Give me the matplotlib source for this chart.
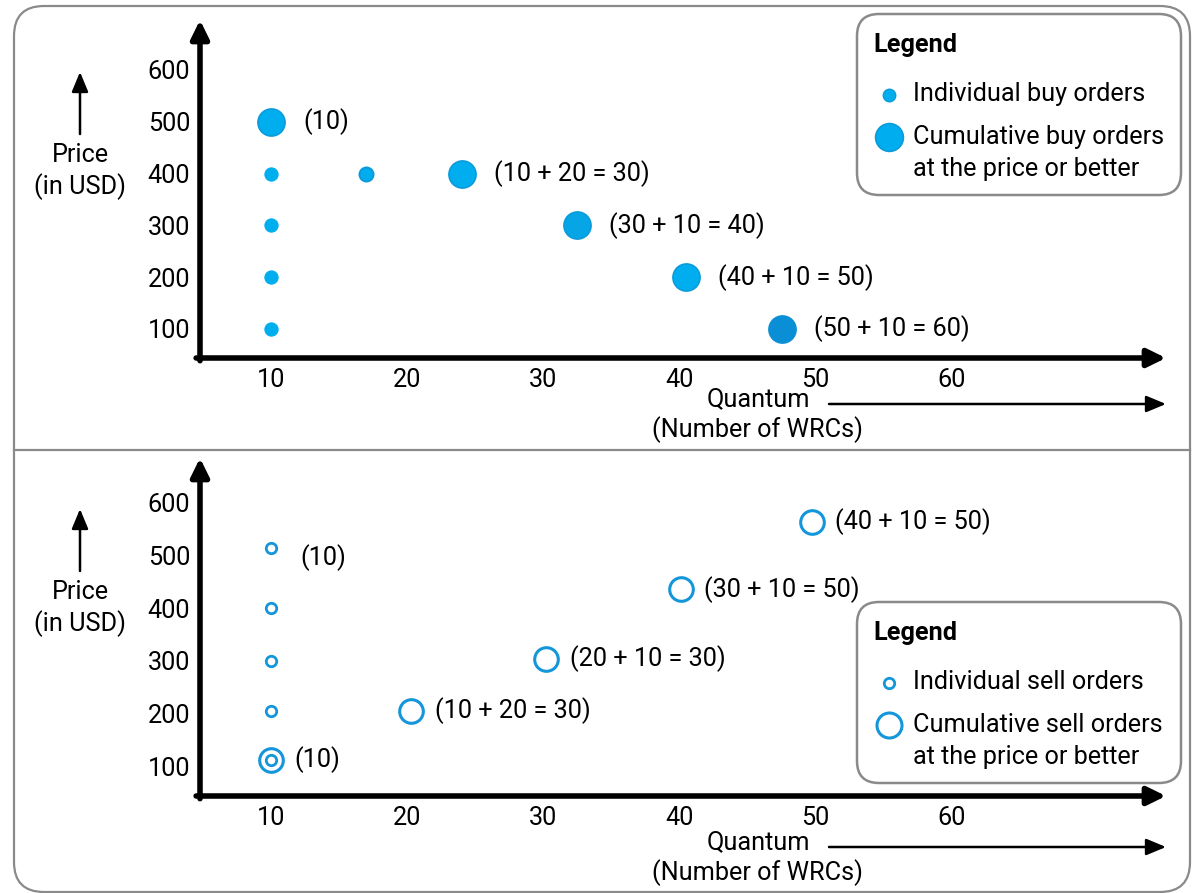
import matplotlib.pyplot as plt
from matplotlib.patches import FancyBboxPatch

plt.rcParams['font.family'] = ['Roboto', 'DejaVu Sans']

# buy side (top panel)
buy_ind_qty = [10, 10, 10, 10, 17]
buy_ind_price = [400, 300, 200, 100, 400]
buy_cum_qty = [10, 24, 32.5, 40.5, 47.5]
buy_cum_price = [500, 400, 300, 200, 100]
buy_labels = ["(10)", "(10 + 20 = 30)", "(30 + 10 = 40)", "(40 + 10 = 50)", "(50 + 10 = 60)"]

# sell side (bottom panel)
sell_ind_qty = [10, 10, 10, 10, 10]
sell_ind_price = [515, 400, 300, 205, 112]
sell_cum_qty = [10, 20.3, 30.2, 40.1, 49.7]
sell_cum_price = [112, 205, 304, 436, 564]
sell_labels = ["(10)", "(10 + 20 = 30)", "(20 + 10 = 30)", "(30 + 10 = 50)", "(40 + 10 = 50)"]

xticks = [10, 20, 30, 40, 50, 60]
yticks = [100, 200, 300, 400, 500, 600]

W, H = 1198, 893
FS = 18.2
BLUE = '#00AEEF'
BLUE_MID = '#05A5E6'
BLUE_EDGE = '#0A9BDB'
BLUE_DARK = '#0A8FD6'
RING = '#1496DA'
GRAY = '#8a8a8a'

fig = plt.figure(figsize=(W / 100, H / 100), dpi=100)

# background axes in pixel coordinates for frames, legends and side labels
bg = fig.add_axes([0, 0, 1, 1])
bg.set_xlim(0, W)
bg.set_ylim(H, 0)
bg.axis('off')

bg.add_patch(FancyBboxPatch((14, 6), 1176, 886, boxstyle='round,pad=0,rounding_size=30',
                            fc='white', ec=GRAY, lw=1.6))
bg.plot([14, 1190], [450, 450], color=GRAY, lw=1.6)


def px_axes(left, right, bottom, top):
    return fig.add_axes([left / W, 1 - bottom / H, (right - left) / W, (bottom - top) / H])


def style_axes(ax, ylo, yhi):
    ax.set_xlim(4.78, 75.74)
    ax.set_ylim(ylo, yhi)
    for s in ax.spines.values():
        s.set_visible(False)
    ax.patch.set_visible(False)
    ax.set_xticks(xticks)
    ax.set_yticks(yticks)
    ax.set_xticklabels([str(t) for t in xticks], fontsize=FS)
    ax.set_yticklabels([str(t) for t in yticks], fontsize=FS)
    ax.tick_params(length=0, pad=7)
    ap = dict(arrowstyle='-|>,head_length=0.55,head_width=0.27', lw=4, color='black',
              shrinkA=0, shrinkB=0, mutation_scale=20)
    ax.annotate('', xy=(1, 0), xytext=(-0.004, 0), xycoords='axes fraction', arrowprops=ap)
    ax.annotate('', xy=(0, 1), xytext=(0, -0.008), xycoords='axes fraction', arrowprops=ap)


def side_labels(price_y, quant_y):
    thin = dict(arrowstyle='-|>,head_length=0.6,head_width=0.25', lw=1.8, color='black',
                shrinkA=0, shrinkB=0, mutation_scale=20)
    bg.annotate('', xy=(80, price_y - 83), xytext=(80, price_y - 21), arrowprops=thin)
    bg.text(80, price_y, 'Price', ha='center', va='center', fontsize=FS)
    bg.text(80, price_y + 32, '(in USD)', ha='center', va='center', fontsize=FS)
    bg.text(758, quant_y, 'Quantum', ha='center', va='center', fontsize=FS)
    bg.text(758, quant_y + 31, '(Number of WRCs)', ha='center', va='center', fontsize=FS)
    bg.annotate('', xy=(1166, quant_y + 5), xytext=(829, quant_y + 5), arrowprops=thin)


def legend_box(top, kind, filled):
    bg.add_patch(FancyBboxPatch((857, top), 324, 181, boxstyle='round,pad=0,rounding_size=22',
                                fc='white', ec=GRAY, lw=1.8))
    bg.text(873, top + 31, 'Legend', ha='left', va='center', fontsize=FS, fontweight='bold')
    if filled:
        bg.plot(889, top + 81, 'o', ms=9, mfc=BLUE, mec=BLUE_EDGE, mew=1)
        bg.plot(889, top + 123, 'o', ms=20, mfc=BLUE, mec=BLUE_EDGE, mew=1.2)
    else:
        bg.plot(889, top + 81, 'o', ms=7.5, mfc='none', mec=RING, mew=2)
        bg.plot(889, top + 123, 'o', ms=18, mfc='none', mec=RING, mew=2.2)
    bg.text(913, top + 80, f'Individual {kind} orders', ha='left', va='center', fontsize=FS)
    bg.text(913, top + 123, f'Cumulative {kind} orders', ha='left', va='center', fontsize=FS)
    bg.text(913, top + 155, 'at the price or better', ha='left', va='center', fontsize=FS)


# top panel: buy orders
ax1 = px_axes(200, 1166, 358, 20)
style_axes(ax1, 44.0, 696.5)
ax1.plot(buy_ind_qty[:4], buy_ind_price[:4], 'o', ms=9.5, mfc=BLUE, mec=BLUE, mew=0.8)
ax1.plot(buy_ind_qty[4:], buy_ind_price[4:], 'o', ms=10, mfc=BLUE, mec=BLUE_EDGE, mew=1.5)
cum_colors = [BLUE, BLUE, BLUE_MID, BLUE, BLUE_DARK]
for q, p, c, lab in zip(buy_cum_qty, buy_cum_price, cum_colors, buy_labels):
    ax1.plot(q, p, 'o', ms=19.5, mfc=c, mec=BLUE_EDGE if c != BLUE_DARK else BLUE_DARK, mew=1.2)
    ax1.annotate(lab, (q, p), xytext=(23, 0), textcoords='offset points',
                 ha='left', va='center', fontsize=FS)
legend_box(14, 'buy', True)
side_labels(155, 399)

# bottom panel: sell orders
ax2 = px_axes(200, 1166, 796, 458)
style_axes(ax2, 43.0, 685.5)
ax2.plot(sell_ind_qty, sell_ind_price, 'o', ms=7.5, mfc='none', mec=RING, mew=2)
ax2.annotate('(10)', (sell_ind_qty[0], sell_ind_price[0]), xytext=(21, -7),
             textcoords='offset points', ha='left', va='center', fontsize=FS)
for q, p, lab in zip(sell_cum_qty, sell_cum_price, sell_labels):
    ax2.plot(q, p, 'o', ms=17, mfc='none', mec=RING, mew=2.2)
    ax2.annotate(lab, (q, p), xytext=(17, 0), textcoords='offset points',
                 ha='left', va='center', fontsize=FS)
legend_box(602, 'sell', False)
side_labels(592, 842)

fig.savefig('out.png', dpi=100)
